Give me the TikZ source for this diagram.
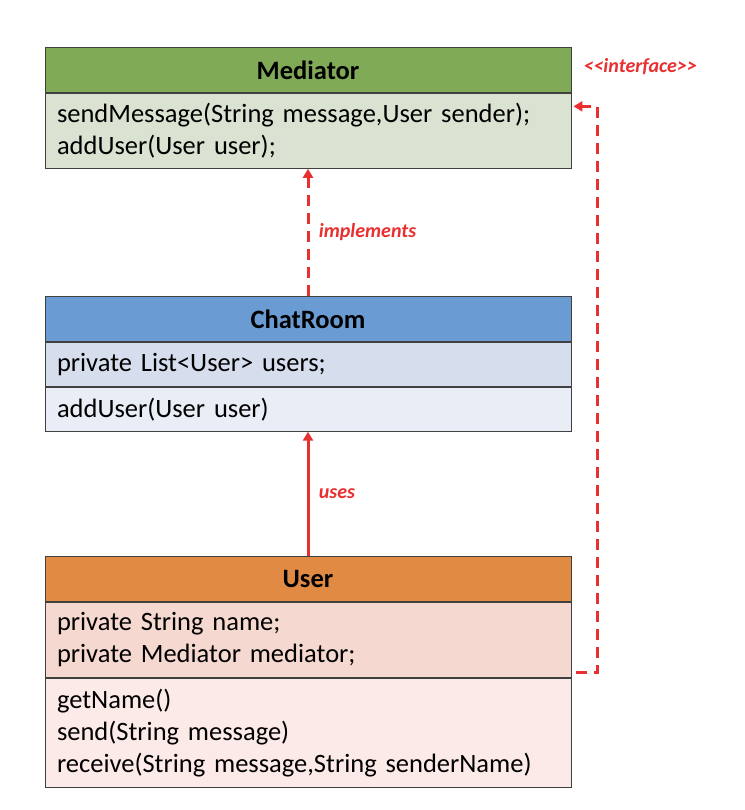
\documentclass[tikz,border=0pt]{standalone}
\usepackage{fontspec}
\setmainfont{Carlito}
\usepackage{tikz}
\usetikzlibrary{arrows.meta,positioning}
\definecolor{medhead}{RGB}{128,170,85}
\definecolor{medbody}{RGB}{218,227,210}
\definecolor{roomhead}{RGB}{106,155,211}
\definecolor{roomattr}{RGB}{214,221,236}
\definecolor{roommeth}{RGB}{233,237,246}
\definecolor{userhead}{RGB}{224,138,67}
\definecolor{userattr}{RGB}{245,216,207}
\definecolor{usermeth}{RGB}{251,234,232}
\definecolor{umlred}{RGB}{232,48,48}
\tikzset{
  umlhead/.style={rectangle,draw=black!75,line width=0.9pt,minimum width=526pt,minimum height=45pt,
    inner sep=0pt,font=\fontsize{26.5}{32}\selectfont\bfseries},
  umlpart/.style={rectangle,draw=black!75,line width=0.9pt,minimum width=526pt,inner xsep=12pt,inner ysep=0pt,
    text width=502pt,align=left,font=\fontsize{26.5}{32}\selectfont},
  relarrow/.style={draw=umlred,line width=3pt,-{Triangle[width=10pt,length=9pt]}},
  reldash/.style={relarrow,dash pattern=on 11pt off 7pt},
  rellabel/.style={text=umlred,font=\fontsize{20}{24}\selectfont\bfseries\itshape}
}
\begin{document}
\begin{tikzpicture}[x=1pt,y=-1pt]
\useasboundingbox[fill=white] (0,0) rectangle (744,810);
% Mediator
\node (med) [umlhead,fill=medhead,anchor=north] at (308,47) {Mediator};
\node (medb) [umlpart,fill=medbody,minimum height=75pt,below=0pt of med] {sendMessage(String message,User sender);\\addUser(User user);};
% ChatRoom
\node (room) [umlhead,fill=roomhead,anchor=north] at (308,296) {ChatRoom};
\node (rooma) [umlpart,fill=roomattr,minimum height=44pt,below=0pt of room] {private List\textless User\textgreater{} users;};
\node (roomm) [umlpart,fill=roommeth,minimum height=44pt,below=0pt of rooma] {addUser(User user)};
% User
\node (user) [umlhead,fill=userhead,anchor=north] at (308,556) {User};
\node (usera) [umlpart,fill=userattr,minimum height=75pt,below=0pt of user] {private String name;\\private Mediator mediator;};
\node (userm) [umlpart,fill=usermeth,minimum height=109pt,below=0pt of usera] {getName()\\send(String message)\\receive(String message,String senderName)};
%
\draw[reldash] (room.north) -- node[midway,right=6pt,rellabel] {implements} (medb.south);
\draw[relarrow] (user.north) -- node[midway,right=6pt,rellabel] {uses} (roomm.south);
\draw[reldash] ([xshift=5pt,yshift=5pt]usera.south east) -- ++(21,0) |- ([xshift=2pt,yshift=24.5pt]medb.east);
\node (iface) [rellabel,anchor=west] at (580,67) {<\kern0pt<interface>\kern0pt>};
\end{tikzpicture}
\end{document}
